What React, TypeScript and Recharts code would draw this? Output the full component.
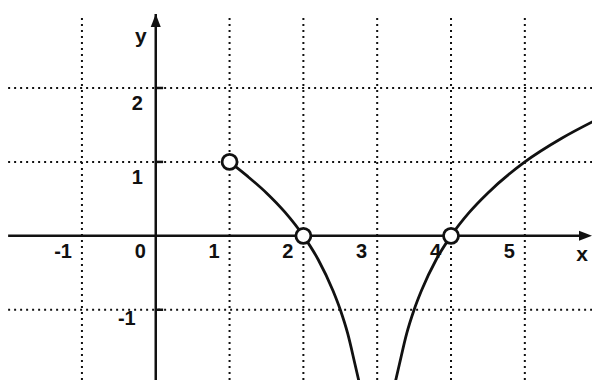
import { ComposedChart, Line, Scatter, XAxis, YAxis, ReferenceLine } from 'recharts';

// points (x, y)
const leftX = [1, 1.25, 1.5, 1.75, 2, 2.2, 2.4, 2.5, 2.6, 2.7, 2.76];
const leftY = [1, 0.8, 0.58, 0.32, 0, -0.32, -0.74, -1, -1.32, -1.74, -2.0];
const rightX = [3.24, 3.3, 3.4, 3.5, 3.6, 3.8, 4, 4.25, 4.5, 5, 5.5, 5.95];
const rightY = [-2.0, -1.74, -1.32, -1, -0.74, -0.32, 0, 0.32, 0.58, 1, 1.32, 1.56];

// open circles (excluded points)
const holeX = [1, 2, 4];
const holeY = [1, 0, 0];

const gridX = [-1, 1, 2, 3, 4, 5];
const gridY = [2, 1, -1];

const xTickValues = [-1, 0, 1, 2, 3, 4, 5];
const xTickLabels = ['-1', '0', '1', '2', '3', '4', '5'];
const yTickValues = [2, 1, -1];
const yTickLabels = ['2', '1', '-1'];

const leftData = leftX.map((x, i) => ({ x, y: leftY[i] }));
const rightData = rightX.map((x, i) => ({ x, y: rightY[i] }));
const holes = holeX.map((x, i) => ({ x, y: holeY[i] }));
const xLabels = xTickValues.map((x, i) => ({ x, y: 0, label: xTickLabels[i] }));
const yLabels = yTickValues.map((y, i) => ({ x: 0, y, label: yTickLabels[i] }));

const FONT = '"Liberation Sans", Arial, sans-serif';
const INK = '#111';

const XLabel = (props: any) => (
  <text x={props.cx - 10} y={props.cy + 22} textAnchor="end" fontSize={20} fontWeight="bold" fontFamily={FONT} fill={INK}>
    {props.payload?.label ?? props.label}
  </text>
);

const YLabel = (props: any) => {
  const below = (props.payload?.y ?? props.y) < 0;
  return (
    <text x={props.cx - (below ? 20 : 13)} y={props.cy + (below ? 15 : 22)} textAnchor="end" fontSize={20} fontWeight="bold" fontFamily={FONT} fill={INK}>
      {props.payload?.label ?? props.label}
    </text>
  );
};

const Hole = (props: any) => (
  <circle cx={props.cx} cy={props.cy} r={7.5} fill="#fff" stroke={INK} strokeWidth={2.8} />
);

const ArrowRight = (props: any) => (
  <g>
    <path d={`M${props.cx},${props.cy} l-13,-5 l0,10 z`} fill={INK} />
    <text x={props.cx - 10} y={props.cy + 25} textAnchor="middle" fontSize={21} fontWeight="bold" fontFamily={FONT} fill={INK}>x</text>
  </g>
);

const ArrowUp = (props: any) => (
  <g>
    <path d={`M${props.cx},${props.cy} l-5,13 l10,0 z`} fill={INK} />
    <text x={props.cx - 15} y={props.cy + 29} textAnchor="middle" fontSize={21} fontWeight="bold" fontFamily={FONT} fill={INK}>y</text>
  </g>
);

const App = () => {
  return (
    <div style={{ position: 'absolute', left: 0, top: 0, background: '#fff' }}>
      <ComposedChart width={592} height={380} margin={{ top: 0, right: 0, bottom: 0, left: 0 }}>
        <XAxis type="number" dataKey="x" domain={[-2.11, 5.91]} allowDataOverflow hide />
        <YAxis type="number" dataKey="y" domain={[-1.95, 3.19]} allowDataOverflow hide />

        {gridX.map((g) => (
          <ReferenceLine key={`gx${g}`} segment={[{ x: g, y: -1.95 }, { x: g, y: 3.0 }]} stroke={INK} strokeWidth={2} strokeDasharray="2 4" />
        ))}
        {gridY.map((g) => (
          <ReferenceLine key={`gy${g}`} segment={[{ x: -2.0, y: g }, { x: 5.91, y: g }]} stroke={INK} strokeWidth={2} strokeDasharray="2 4" />
        ))}

        <ReferenceLine segment={[{ x: -2.0, y: 0 }, { x: 5.85, y: 0 }]} stroke={INK} strokeWidth={2.5} />
        <ReferenceLine segment={[{ x: 0, y: -1.95 }, { x: 0, y: 3.0 }]} stroke={INK} strokeWidth={2.5} />
        {yTickValues.map((v) => (
          <ReferenceLine key={`yt${v}`} segment={[{ x: 0, y: v }, { x: 0.1, y: v }]} stroke={INK} strokeWidth={2.5} />
        ))}

        <Line data={leftData} dataKey="y" type="monotone" stroke={INK} strokeWidth={2.8} dot={false} isAnimationActive={false} />
        <Line data={rightData} dataKey="y" type="monotone" stroke={INK} strokeWidth={2.8} dot={false} isAnimationActive={false} />

        <Scatter data={holes} shape={<Hole />} isAnimationActive={false} />
        <Scatter data={xLabels} shape={<XLabel />} isAnimationActive={false} />
        <Scatter data={yLabels} shape={<YLabel />} isAnimationActive={false} />
        <Scatter data={[{ x: 5.91, y: 0 }]} shape={<ArrowRight />} isAnimationActive={false} />
        <Scatter data={[{ x: 0, y: 3.0 }]} shape={<ArrowUp />} isAnimationActive={false} />
      </ComposedChart>
    </div>
  );
};

export default App;
